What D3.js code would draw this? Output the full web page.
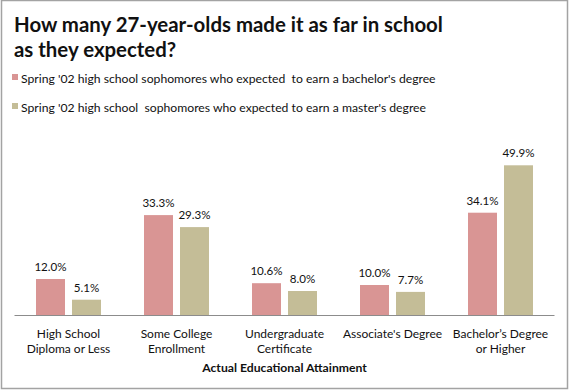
<!DOCTYPE html>
<html>
<head>
<meta charset="utf-8">
<script src="https://cdn.jsdelivr.net/npm/d3@7"></script>
<style>
  body { margin: 0; background: #fff; }
  text { font-family: Lato, "Open Sans", sans-serif; fill: #111; white-space: pre; }
</style>
</head>
<body>
<div id="chart"></div>
<script>
const categories = [
  ["High School", "Diploma or Less"],
  ["Some College", "Enrollment"],
  ["Undergraduate", "Certificate"],
  ["Associate's Degree"],
  ["Bachelor\u2019s Degree", "or Higher"]
];
const seriesNames = [
  "Spring '02 high school sophomores who expected  to earn a bachelor's degree",
  "Spring '02 high school  sophomores who expected to earn a master's degree"
];
const bachelorValues = [12.0, 33.3, 10.6, 10.0, 34.1];
const masterValues = [5.1, 29.3, 8.0, 7.7, 49.9];
const seriesColors = ["#d99594", "#c4bd97"];
const titleLines = ["How many 27-year-olds made it as far in school", "as they expected?"];
const axisTitle = "Actual Educational Attainment";

function drawChart() {
  const width = 570;
  const height = 391;

  const svg = d3
    .select("#chart")
    .append("svg")
    .attr("width", width)
    .attr("height", height)
    .style("display", "block");

  svg
    .append("rect")
    .attr("x", 1.5)
    .attr("y", 0.5)
    .attr("width", 566)
    .attr("height", 388)
    .attr("fill", "#fff")
    .attr("stroke", "#a3a3a3")
    .attr("stroke-width", 1.5);

  // title
  svg
    .append("g")
    .selectAll("text")
    .data(titleLines)
    .join("text")
    .attr("x", 14)
    .attr("y", (d, i) => 32 + i * 25)
    .attr("font-size", "20.4px")
    .attr("font-weight", "bold")
    .text((d) => d);

  // legend
  const legend = svg
    .append("g")
    .selectAll("g")
    .data(seriesNames)
    .join("g")
    .attr("transform", (d, i) => `translate(12, ${74 + i * 29})`);

  legend
    .append("rect")
    .attr("width", 6)
    .attr("height", 6)
    .attr("fill", (d, i) => seriesColors[i]);

  legend
    .append("text")
    .attr("x", 9)
    .attr("y", 8.5)
    .attr("font-size", "12.2px")
    .text((d) => d);

  const x = d3
    .scaleBand()
    .domain(d3.range(categories.length))
    .range([14.5, 554.5]);

  const xInner = d3
    .scaleBand()
    .domain([0, 1])
    .range([x.bandwidth() / 2 - 32.5, x.bandwidth() / 2 + 32.5])
    .paddingInner(7 / 36);

  const y = d3.scaleLinear().domain([0, 50]).range([315, 165]);

  const rows = categories.map((c, i) => ({
    index: i,
    values: [bachelorValues[i], masterValues[i]]
  }));

  const groups = svg
    .append("g")
    .selectAll("g")
    .data(rows)
    .join("g")
    .attr("transform", (d) => `translate(${x(d.index)}, 0)`);

  groups
    .selectAll("rect")
    .data((d) => d.values)
    .join("rect")
    .attr("x", (d, i) => xInner(i))
    .attr("y", (d) => y(d))
    .attr("width", xInner.bandwidth())
    .attr("height", (d) => y(0) - y(d))
    .attr("fill", (d, i) => seriesColors[i]);

  groups
    .selectAll("text.value")
    .data((d) => d.values)
    .join("text")
    .attr("class", "value")
    .attr("x", (d, i) => xInner(i) + xInner.bandwidth() / 2)
    .attr("y", (d) => y(d) - 8)
    .attr("text-anchor", "middle")
    .attr("font-size", "11.6px")
    .text((d) => d3.format(".1f")(d) + "%");

  // x axis line and category labels
  svg
    .append("line")
    .attr("x1", x.range()[0])
    .attr("x2", x.range()[1])
    .attr("y1", y(0) + 0.5)
    .attr("y2", y(0) + 0.5)
    .attr("stroke", "#8c8c8c");

  const labels = svg
    .append("g")
    .selectAll("text")
    .data(categories)
    .join("text")
    .attr("text-anchor", "middle")
    .attr("font-size", "12px")
    .attr("transform", (d, i) => `translate(${x(i) + x.bandwidth() / 2}, 338)`);

  labels
    .selectAll("tspan")
    .data((d) => d)
    .join("tspan")
    .attr("x", 0)
    .attr("y", (d, i) => i * 15)
    .text((d) => d);

  svg
    .append("text")
    .attr("x", 284.5)
    .attr("y", 372)
    .attr("text-anchor", "middle")
    .attr("font-size", "12.2px")
    .attr("font-weight", "bold")
    .text(axisTitle);
}

drawChart();
</script>
</body>
</html>
